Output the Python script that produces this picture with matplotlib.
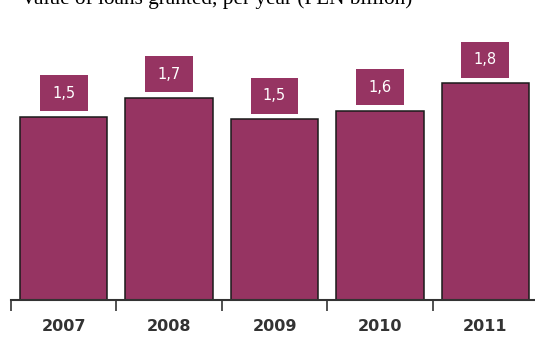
import numpy as np
import matplotlib
matplotlib.use("Agg")
import matplotlib.pyplot as plt

# Datos del gráfico
years = ["2007", "2008", "2009", "2010", "2011"]
values = [1.52, 1.68, 1.50, 1.57, 1.80]
title = "Value of loans granted, per year (PLN billion)"

BAR_COLOR = "#963462"
PX_PER_UNIT = 120.5

fig = plt.figure(figsize=(5.35, 3.38), dpi=100)
ax = fig.add_axes([11 / 535, 38 / 338, 527 / 535, 300 / 338])

x = np.arange(len(years))
ax.bar(x, values, width=0.83, color=BAR_COLOR, edgecolor="#1a1a1a", linewidth=1.1, zorder=2)

# Cajas de etiquetas encima de cada barra
gap = 5.5 / PX_PER_UNIT
box_h = 36 / PX_PER_UNIT
ax.bar(x, [box_h] * len(values), bottom=np.array(values) + gap, width=0.455,
       color=BAR_COLOR, linewidth=0, zorder=2)
for xi, v in zip(x, values):
    label = f"{v:.1f}".replace(".", ",")
    ax.text(xi, v + gap + box_h / 2, label, ha="center", va="center",
            color="white", fontsize=10.5, family="DejaVu Sans", zorder=3)

ax.set_xlim(-0.5, len(years) - 0.5)
ax.set_ylim(0, 300 / PX_PER_UNIT)

# Marcas en los límites de categoría, etiquetas en el centro
ax.set_xticks(np.arange(len(years) + 1) - 0.5)
ax.set_xticklabels([])
ax.set_xticks(x, minor=True)
ax.set_xticklabels(years, minor=True)
ax.tick_params(axis="x", which="major", length=8, width=1.2, color="#333333", direction="out")
ax.tick_params(axis="x", which="minor", length=0, pad=14, labelsize=11.5, labelcolor="#333333")
for t in ax.get_xticklabels(minor=True):
    t.set_fontweight("bold")
ax.set_yticks([])

for s in ["top", "right", "left"]:
    ax.spines[s].set_visible(False)
ax.spines["bottom"].set_color("#333333")
ax.spines["bottom"].set_linewidth(1.5)
ax.spines["bottom"].set_zorder(4)

# Título recortado en el borde superior, como en el original
fig.text(21 / 535, 1 - 4 / 338, title, ha="left", va="baseline",
         fontsize=15.3, family="Liberation Serif", color="black")

fig.savefig("out.png", dpi=100)
